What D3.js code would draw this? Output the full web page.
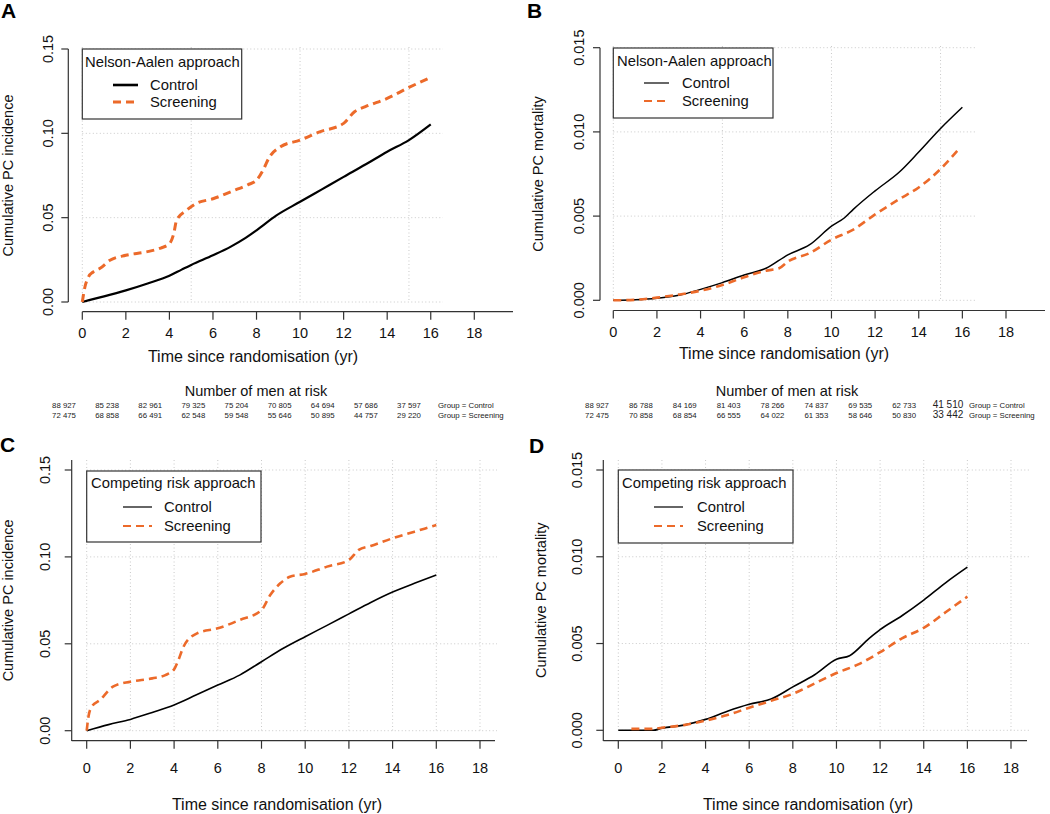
<!DOCTYPE html>
<html>
<head>
<meta charset="utf-8">
<script src="https://cdn.jsdelivr.net/npm/d3@7"></script>
<style>
  html, body { margin: 0; padding: 0; background: #fff; }
  svg { display: block; font-family: "Liberation Sans", Arial, Helvetica, sans-serif; }
</style>
</head>
<body>
<svg id="chart" width="1050" height="814"></svg>
<script>
// ---------------- DATA ----------------
const xTicks = [0, 2, 4, 6, 8, 10, 12, 14, 16, 18];
const incidenceTicks = [0, 0.05, 0.10, 0.15];
const mortalityTicks = [0, 0.005, 0.010, 0.015];
const seriesNames = ["Control", "Screening"];

// Panel A: Nelson-Aalen, PC incidence  [time (yr), cumulative]
const aControl = [[0,0],[1,0.0033],[2,0.0069],[3,0.011],[4,0.0156],[4.56,0.0192],[5,0.022],[6,0.0277],[6.8,0.0327],[7.5,0.038],[8,0.0425],[8.9,0.0512],[10,0.0594],[11,0.0668],[12,0.0742],[13,0.0815],[14,0.0891],[15,0.096],[16,0.1053]];
const aScreening = [[0,0],[0.12,0.0089],[0.28,0.0148],[0.5,0.0178],[0.8,0.0198],[1.27,0.0247],[2,0.0277],[2.95,0.0297],[3.6,0.032],[4,0.0345],[4.2,0.0406],[4.33,0.0485],[4.8,0.0545],[5.25,0.0585],[6,0.0612],[6.9,0.0658],[7.6,0.0695],[8,0.0722],[8.3,0.0782],[8.6,0.0861],[9.1,0.092],[10,0.096],[10.9,0.1009],[12,0.1059],[12.5,0.1128],[13,0.1158],[14,0.1207],[15,0.1272],[15.9,0.1326]];

// Panel B: Nelson-Aalen, PC mortality
const bControl = [[0,0],[1,0.00003],[2,0.00012],[3,0.0003],[4,0.00065],[5,0.00105],[6,0.0015],[7,0.0019],[8,0.0027],[9,0.0033],[10,0.0044],[10.6,0.0049],[11,0.0054],[12,0.0065],[13.1,0.0076],[14,0.0088],[15,0.0102],[16,0.01146]];
const bScreening = [[0,0],[1,0.00003],[2,0.00016],[3,0.00034],[4,0.00057],[5,0.00091],[6,0.00137],[7,0.00176],[7.6,0.0019],[8,0.0023],[9,0.0028],[10,0.0036],[11,0.0042],[12,0.0051],[13.1,0.006],[14,0.0067],[15,0.0078],[15.85,0.009]];

// Panel C: Competing risk, PC incidence
const cControl = [[0,0],[1,0.0035],[2,0.0065],[3,0.0105],[4,0.0148],[5,0.0205],[6,0.0263],[7,0.032],[8,0.0397],[9,0.0474],[10,0.0541],[11,0.0606],[12,0.0672],[13,0.0738],[14,0.0798],[15,0.0848],[16,0.0896]];
const cScreening = [[0,0],[0.08,0.008],[0.23,0.0138],[0.6,0.0176],[1.2,0.0253],[2,0.0282],[3,0.0301],[3.6,0.032],[4,0.0353],[4.2,0.0407],[4.43,0.0483],[5.05,0.056],[6,0.0589],[7,0.0637],[8,0.0694],[8.4,0.0781],[8.86,0.0848],[9.3,0.0886],[10,0.0902],[11,0.0944],[12,0.0982],[12.45,0.104],[13,0.1063],[14,0.1107],[15,0.1145],[16,0.1183]];

// Panel D: Competing risk, PC mortality
const dControl = [[0,0],[1.6,0],[2,0.00012],[3,0.0003],[4,0.00063],[5,0.0011],[6,0.0015],[7,0.0018],[8,0.0025],[9,0.0032],[10,0.0041],[10.6,0.0043],[11.5,0.0053],[12,0.0058],[13,0.0066],[14,0.0075],[15,0.0085],[16,0.0094]];
const dScreening = [[0.6,0.00008],[1.5,0.00008],[2,0.00015],[3,0.0003],[4,0.00056],[5,0.00088],[6,0.0013],[7,0.0017],[8,0.0021],[9,0.0027],[10,0.0033],[11,0.0038],[12,0.0045],[13,0.0053],[14,0.0059],[15,0.0068],[16,0.0077]];

// Number of men at risk (years 0,2,...,16)
const riskYears = [0, 2, 4, 6, 8, 10, 12, 14, 16];
const riskIncControl   = ["88 927","85 238","82 961","79 325","75 204","70 805","64 694","57 686","37 597"];
const riskIncScreening = ["72 475","68 858","66 491","62 548","59 548","55 646","50 895","44 757","29 220"];
const riskMortControl   = ["88 927","86 788","84 169","81 403","78 266","74 837","69 535","62 733","41 510"];
const riskMortScreening = ["72 475","70 858","68 854","66 555","64 022","61 353","58 646","50 830","33 442"];
const riskGroupLabels = ["Group = Control", "Group = Screening"];

// ---------------- STYLE ----------------
const ORANGE = "#EC6A2A";
const AXIS = "#333";
const GRID = "#c9c9c9";
const svg = d3.select("#chart");

// ---------------- PANELS ----------------
const panels = [
  { letter: "A", lx: 1, ly: 18,
    x0: 82.3, x18: 474.3, yBot: 302, yTop: 49, yMax: 0.15, yTicks: incidenceTicks, fmt: ".2f",
    yAxisX: 68.3, yAxisFrom: 49, yAxisTo: 302, xAxisY: 311.7, xAxisFrom: 82.3, xAxisTo: 513,
    gridV: [0, 5, 10, 15], gridVTop: 47, gridHTo: 443,
    yLabel: "Cumulative PC incidence", yLabelX: 8, xTitleX: 253, xTitleY: 362, xLabY: 338, yTickX: 48,
    ctrl: aControl, scr: aScreening, ctrlW: 2.2, scrW: 3.0,
    legend: { x1: 82.3, x2: 241.7, y1: 49, y2: 119, title: "Nelson-Aalen approach", tx: 85, ty: 67, r1: 90, r2: 107, lx1: 113, lx2: 138, textX: 150, cw: 2.6, sw: 3 } },
  { letter: "B", lx: 527, ly: 18,
    x0: 613.3, x18: 1006, yBot: 300.3, yTop: 47.7, yMax: 0.015, yTicks: mortalityTicks, fmt: ".3f",
    yAxisX: 600, yAxisFrom: 47.7, yAxisTo: 300.3, xAxisY: 310.5, xAxisFrom: 613.3, xAxisTo: 1045,
    gridV: [0, 5, 10, 15], gridVTop: 46, gridHTo: 975,
    yLabel: "Cumulative PC mortality", yLabelX: 538, xTitleX: 784, xTitleY: 359, xLabY: 337, yTickX: 579,
    ctrl: bControl, scr: bScreening, ctrlW: 1.5, scrW: 2.6,
    legend: { x1: 613.3, x2: 773, y1: 48, y2: 118, title: "Nelson-Aalen approach", tx: 617, ty: 66, r1: 88, r2: 106, lx1: 644, lx2: 669, textX: 682, cw: 1.2, sw: 1.8 } },
  { letter: "C", lx: 0, ly: 452,
    x0: 86.7, x18: 480, yBot: 730.7, yTop: 470, yMax: 0.15, yTicks: incidenceTicks, fmt: ".2f",
    yAxisX: 71.7, yAxisFrom: 460, yAxisTo: 741, xAxisY: 740.7, xAxisFrom: 71.7, xAxisTo: 495,
    gridV: [0, 2, 4, 6, 8, 10, 12, 14, 16, 18], gridVTop: 460, gridHTo: 497,
    yLabel: "Cumulative PC incidence", yLabelX: 8, xTitleX: 277, xTitleY: 810, xLabY: 773, yTickX: 45,
    ctrl: cControl, scr: cScreening, ctrlW: 1.6, scrW: 2.6,
    legend: { x1: 86.7, x2: 261, y1: 471, y2: 542, title: "Competing risk approach", tx: 91, ty: 488, r1: 512, r2: 531, lx1: 123, lx2: 152, textX: 164, cw: 1.2, sw: 1.8 } },
  { letter: "D", lx: 529, ly: 453,
    x0: 618.3, x18: 1011, yBot: 730.3, yTop: 470, yMax: 0.015, yTicks: mortalityTicks, fmt: ".3f",
    yAxisX: 603.3, yAxisFrom: 460, yAxisTo: 741, xAxisY: 740.7, xAxisFrom: 603.3, xAxisTo: 1027,
    gridV: [0, 2, 4, 6, 8, 10, 12, 14, 16, 18], gridVTop: 460, gridHTo: 1029,
    yLabel: "Cumulative PC mortality", yLabelX: 541, xTitleX: 808, xTitleY: 810, xLabY: 773, yTickX: 577,
    ctrl: dControl, scr: dScreening, ctrlW: 1.6, scrW: 2.6,
    legend: { x1: 618.3, x2: 793, y1: 470, y2: 543, title: "Competing risk approach", tx: 622, ty: 488, r1: 512, r2: 531, lx1: 654, lx2: 683, textX: 697, cw: 1.2, sw: 1.8 } }
];

panels.forEach(p => {
  const g = svg.append("g");
  const x = d3.scaleLinear().domain([0, 18]).range([p.x0, p.x18]);
  const y = d3.scaleLinear().domain([0, p.yMax]).range([p.yBot, p.yTop]);

  // grid
  g.selectAll(".gh").data(p.yTicks).join("line")
    .attr("x1", x(0)).attr("x2", p.gridHTo)
    .attr("y1", d => y(d)).attr("y2", d => y(d))
    .attr("stroke", GRID).attr("stroke-width", 1).attr("stroke-dasharray", "1,2.5");
  g.selectAll(".gv").data(p.gridV).join("line")
    .attr("x1", d => x(d)).attr("x2", d => x(d))
    .attr("y1", p.gridVTop).attr("y2", y(0))
    .attr("stroke", GRID).attr("stroke-width", 1).attr("stroke-dasharray", "1,2.5");

  // axes lines
  g.append("line").attr("x1", p.yAxisX).attr("x2", p.yAxisX).attr("y1", p.yAxisFrom).attr("y2", p.yAxisTo)
    .attr("stroke", AXIS).attr("stroke-width", 1.2);
  g.append("line").attr("x1", p.xAxisFrom).attr("x2", p.xAxisTo).attr("y1", p.xAxisY).attr("y2", p.xAxisY)
    .attr("stroke", AXIS).attr("stroke-width", 1.2);

  // x ticks
  g.selectAll(".xt").data(xTicks).join("line")
    .attr("x1", d => x(d)).attr("x2", d => x(d))
    .attr("y1", p.xAxisY).attr("y2", p.xAxisY + 8)
    .attr("stroke", AXIS).attr("stroke-width", 1.2);
  g.selectAll(".xl").data(xTicks).join("text")
    .attr("x", d => x(d)).attr("y", p.xLabY)
    .attr("text-anchor", "middle").attr("font-size", 14.5).attr("fill", "#111")
    .text(d => d);

  // y ticks
  g.selectAll(".yt").data(p.yTicks).join("line")
    .attr("x1", p.yAxisX - 7).attr("x2", p.yAxisX)
    .attr("y1", d => y(d)).attr("y2", d => y(d))
    .attr("stroke", AXIS).attr("stroke-width", 1.2);
  g.selectAll(".yl").data(p.yTicks).join("text")
    .attr("transform", d => `translate(${p.yTickX},${y(d)}) rotate(-90)`)
    .attr("dy", "0.35em")
    .attr("text-anchor", "middle").attr("font-size", 14.5).attr("fill", "#111")
    .text(d => d3.format(p.fmt)(d));

  // titles
  g.append("text").attr("x", p.xTitleX).attr("y", p.xTitleY)
    .attr("text-anchor", "middle").attr("font-size", 16).attr("fill", "#111")
    .text("Time since randomisation (yr)");
  g.append("text")
    .attr("transform", `translate(${p.yLabelX},${(p.yTop + p.yBot) / 2}) rotate(-90)`)
    .attr("dy", "0.35em").attr("text-anchor", "middle").attr("font-size", 14.5).attr("fill", "#111")
    .text(p.yLabel);
  g.append("text").attr("x", p.lx).attr("y", p.ly)
    .attr("font-size", 21).attr("font-weight", "bold").attr("fill", "#000")
    .text(p.letter);

  // curves
  const line = d3.line().x(d => x(d[0])).y(d => y(d[1])).curve(d3.curveMonotoneX);
  g.append("path").datum(p.ctrl).attr("d", line)
    .attr("fill", "none").attr("stroke", "#000").attr("stroke-width", p.ctrlW).attr("stroke-linejoin", "round");
  g.append("path").datum(p.scr).attr("d", line)
    .attr("fill", "none").attr("stroke", ORANGE).attr("stroke-width", p.scrW)
    .attr("stroke-dasharray", "8,5");

  // legend
  const L = p.legend;
  g.append("rect").attr("x", L.x1).attr("y", L.y1).attr("width", L.x2 - L.x1).attr("height", L.y2 - L.y1)
    .attr("fill", "#fff").attr("stroke", AXIS).attr("stroke-width", 1.2);
  g.append("text").attr("x", L.tx).attr("y", L.ty).attr("font-size", 14.8).attr("fill", "#111").text(L.title);
  g.append("line").attr("x1", L.lx1).attr("x2", L.lx2).attr("y1", L.r1 - 5).attr("y2", L.r1 - 5)
    .attr("stroke", "#000").attr("stroke-width", L.cw);
  g.append("line").attr("x1", L.lx1).attr("x2", L.lx2).attr("y1", L.r2 - 5).attr("y2", L.r2 - 5)
    .attr("stroke", ORANGE).attr("stroke-width", L.sw).attr("stroke-dasharray", "8,5");
  g.append("text").attr("x", L.textX).attr("y", L.r1).attr("font-size", 14.8).attr("fill", "#111").text(seriesNames[0]);
  g.append("text").attr("x", L.textX).attr("y", L.r2).attr("font-size", 14.8).attr("fill", "#111").text(seriesNames[1]);
});

// ---------------- AT-RISK TABLES ----------------
const riskTables = [
  { cx: 256, x0: 64, x16: 409, labelX: 438, rows: [riskIncControl, riskIncScreening], bigLast: false },
  { cx: 787, x0: 597, x16: 948, labelX: 969, rows: [riskMortControl, riskMortScreening], bigLast: true }
];
riskTables.forEach(t => {
  const g = svg.append("g");
  const rx = d3.scaleLinear().domain([0, 16]).range([t.x0, t.x16]);
  g.append("text").attr("x", t.cx).attr("y", 396).attr("text-anchor", "middle")
    .attr("font-size", 14.5).attr("fill", "#111").text("Number of men at risk");
  const rowY = [408, 418];
  t.rows.forEach((row, i) => {
    g.selectAll(null).data(row).join("text")
      .attr("x", (d, j) => rx(riskYears[j])).attr("y", rowY[i])
      .attr("text-anchor", "middle")
      .attr("font-size", (d, j) => (t.bigLast && j === row.length - 1) ? 10 : 7.8)
      .attr("fill", "#222").text(d => d);
    g.append("text").attr("x", t.labelX).attr("y", rowY[i])
      .attr("font-size", 7.8).attr("fill", "#222").text(riskGroupLabels[i]);
  });
});
</script>
</body>
</html>
